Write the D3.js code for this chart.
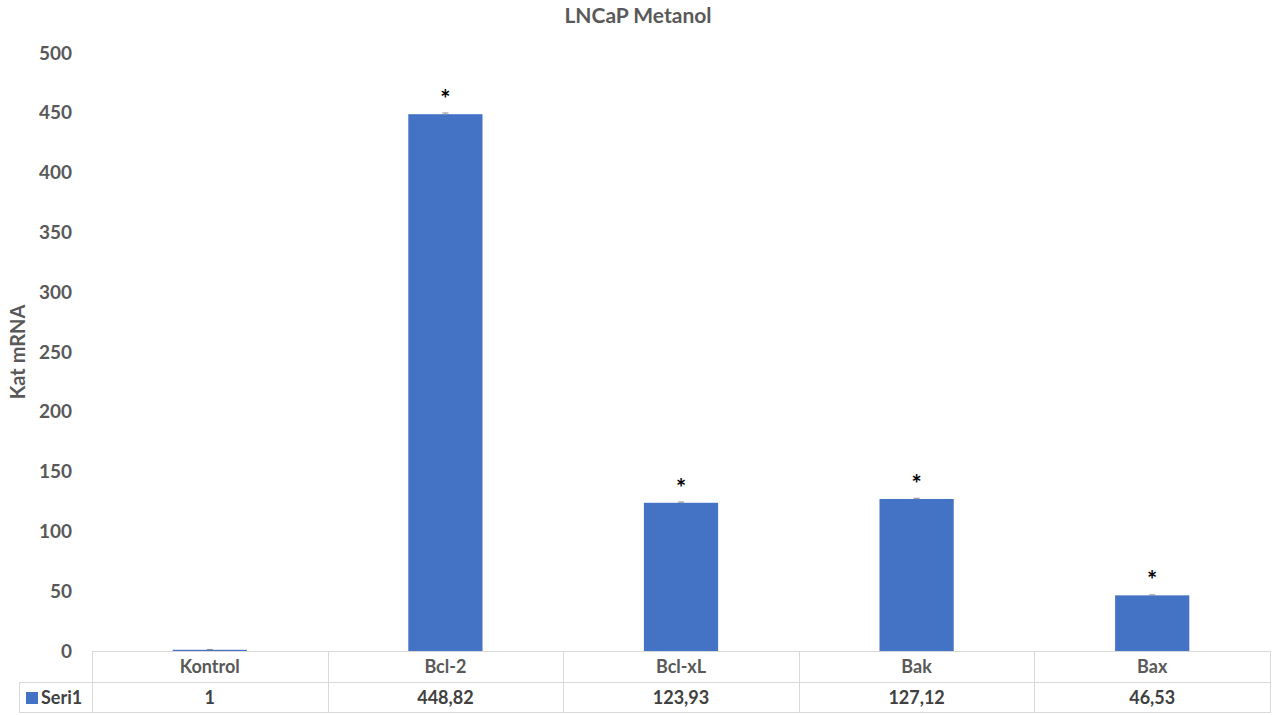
<!DOCTYPE html>
<html>
<head>
<meta charset="utf-8">
<script src="https://cdn.jsdelivr.net/npm/d3@7"></script>
<style>
  html, body { margin: 0; padding: 0; background: #fff; }
  svg { display: block; }
  text { font-family: Lato, "Open Sans", sans-serif; font-weight: 700; }
</style>
</head>
<body>
<script>
// Chart data
const categories = ["Kontrol", "Bcl-2", "Bcl-xL", "Bak", "Bax"];
const values = [1, 448.82, 123.93, 127.12, 46.53];
const errors = [0.3, 1.0, 0.6, 0.6, 0.4];
const significant = [false, true, true, true, true];
const valueLabels = ["1", "448,82", "123,93", "127,12", "46,53"];
const yTicks = [0, 50, 100, 150, 200, 250, 300, 350, 400, 450, 500];
const seriesName = "Seri1";
const chartTitle = "LNCaP Metanol";
const yTitle = "Kat mRNA";

const W = 1284, H = 715;
const margin = { left: 92, right: 14, top: 53, bottom: 64 };
const plotW = W - margin.left - margin.right;
const plotH = H - margin.top - margin.bottom;
const barColor = "#4472c4";
const textColor = "#595959";
const tableText = "#404040";
const lineColor = "#d9d9d9";

const rows = categories.map((c, i) => ({ cat: c, value: values[i], err: errors[i], sig: significant[i], label: valueLabels[i] }));

const svg = d3.select("body").append("svg").attr("width", W).attr("height", H);

const x = d3.scaleBand().domain(categories).range([margin.left, margin.left + plotW]).paddingInner(0.685).paddingOuter(0.3425);
const y = d3.scaleLinear().domain([0, 500]).range([margin.top + plotH, margin.top]);
const cx = d => x(d.cat) + x.bandwidth() / 2;

// Title
svg.append("text").attr("x", 638).attr("y", 23).attr("text-anchor", "middle")
  .attr("font-size", 21).attr("fill", textColor).text(chartTitle);

// Y axis labels
const yAxis = d3.axisLeft(y).tickValues(yTicks).tickSize(0).tickPadding(0);
const gy = svg.append("g").attr("transform", `translate(${margin.left - 20},0)`).call(yAxis);
gy.select(".domain").remove();
gy.selectAll("text").attr("font-size", 19).attr("fill", textColor)
  .style("font-family", "Lato, sans-serif").style("font-weight", 700);

// Y axis title
svg.append("text").attr("transform", `translate(25,${y(250)}) rotate(-90)`)
  .attr("text-anchor", "middle").attr("font-size", 20).attr("fill", textColor).text(yTitle);

// Bars
svg.append("g").selectAll("rect").data(rows).join("rect")
  .attr("x", d => x(d.cat))
  .attr("width", x.bandwidth())
  .attr("y", d => y(d.value))
  .attr("height", d => y(0) - y(d.value))
  .attr("fill", barColor);

// Error bars
const eb = svg.append("g").attr("stroke", "#8c8c8c").attr("stroke-width", 1);
rows.forEach(d => {
  eb.append("line").attr("x1", cx(d)).attr("x2", cx(d)).attr("y1", y(d.value - d.err)).attr("y2", y(d.value + d.err));
  eb.append("line").attr("x1", cx(d) - 3).attr("x2", cx(d) + 3).attr("y1", y(d.value + d.err)).attr("y2", y(d.value + d.err));
});

// Significance markers
svg.append("g").selectAll("text").data(rows.filter(d => d.sig)).join("text")
  .attr("x", cx)
  .attr("y", d => y(d.value) - 6)
  .attr("text-anchor", "middle").attr("font-size", 24).attr("fill", "#000").text("*");

// Data table below the plot
const tTop = y(0), rowH = 31;
const step = plotW / categories.length;
const tbl = svg.append("g").attr("stroke", lineColor).attr("stroke-width", 1).attr("fill", "none");
tbl.append("line").attr("x1", margin.left).attr("x2", margin.left + plotW).attr("y1", tTop + 0.5).attr("y2", tTop + 0.5);
tbl.append("line").attr("x1", 19).attr("x2", margin.left + plotW).attr("y1", tTop + rowH + 0.5).attr("y2", tTop + rowH + 0.5);
tbl.append("line").attr("x1", 19).attr("x2", margin.left + plotW).attr("y1", tTop + 2 * rowH - 0.5).attr("y2", tTop + 2 * rowH - 0.5);
tbl.append("line").attr("x1", 19.5).attr("x2", 19.5).attr("y1", tTop + rowH).attr("y2", tTop + 2 * rowH);
d3.range(categories.length + 1).forEach(k => {
  const xx = Math.round(margin.left + k * step) + 0.5;
  tbl.append("line").attr("x1", xx).attr("x2", xx).attr("y1", tTop).attr("y2", tTop + 2 * rowH);
});

svg.append("g").selectAll("text").data(rows).join("text")
  .attr("x", cx).attr("y", tTop + 22)
  .attr("text-anchor", "middle").attr("font-size", 18).attr("fill", textColor).text(d => d.cat);

svg.append("g").selectAll("text").data(rows).join("text")
  .attr("x", cx).attr("y", tTop + rowH + 22)
  .attr("text-anchor", "middle").attr("font-size", 18).attr("fill", tableText).text(d => d.label);

// Legend key inside the table
svg.append("rect").attr("x", 26).attr("y", tTop + rowH + 10).attr("width", 12).attr("height", 12).attr("fill", barColor);
svg.append("text").attr("x", 41).attr("y", tTop + rowH + 22).attr("font-size", 18).attr("fill", tableText).text(seriesName);
</script>
</body>
</html>
